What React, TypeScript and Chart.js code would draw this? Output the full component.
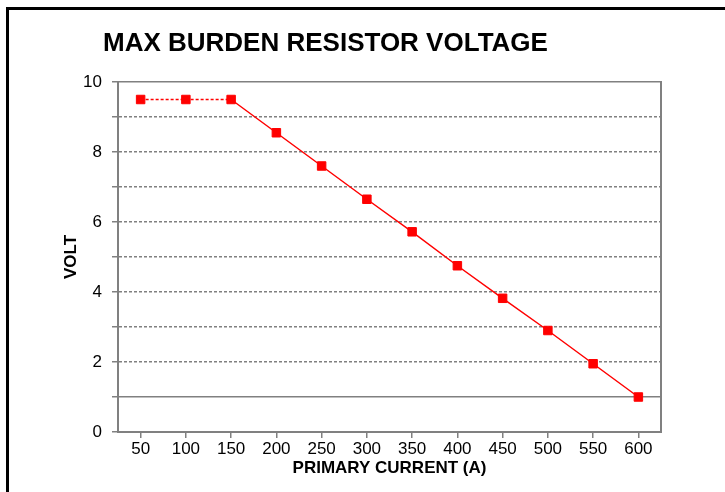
import React, { useEffect, useRef } from "react";
import { Chart, registerables } from "chart.js";

Chart.register(...registerables);

const chartTitle = "MAX BURDEN RESISTOR VOLTAGE";
const xAxisTitle = "PRIMARY CURRENT (A)";
const yAxisTitle = "VOLT";
const categories = ["50", "100", "150", "200", "250", "300", "350", "400", "450", "500", "550", "600"];
const voltage = [9.5, 9.5, 9.5, 8.55, 7.6, 6.65, 5.72, 4.75, 3.82, 2.9, 1.95, 1.0];
const yTickLabels = ["0", "", "2", "", "4", "", "6", "", "8", "", "10"];
const solidGridValues = [0, 1, 10];

const FONT = "'Liberation Sans', Arial, Helvetica, sans-serif";

export default function App() {
  const ref = useRef<HTMLCanvasElement | null>(null);

  useEffect(() => {
    if (!ref.current) return;
    const titlePlugin = {
      id: "leftTitle",
      afterDraw(chart: any) {
        const { ctx, chartArea } = chart;
        ctx.save();
        ctx.font = `bold 26px ${FONT}`;
        ctx.fillStyle = "#000";
        ctx.textAlign = "left";
        ctx.textBaseline = "middle";
        ctx.fillText(chartTitle, chartArea.left - 15, chartArea.top - 38);
        ctx.restore();
      },
    };
    const chart = new Chart(ref.current, {
      type: "line",
      data: {
        labels: categories,
        datasets: [
          {
            data: voltage,
            borderColor: "#ff0000",
            backgroundColor: "#ff0000",
            borderWidth: 1.5,
            pointStyle: "rect",
            pointRadius: 6,
            pointHoverRadius: 6,
            pointBackgroundColor: "#ff0000",
            pointBorderColor: "#ff0000",
            pointBorderWidth: 1,
            tension: 0,
            segment: {
              borderDash: (c: any) => (c.p1DataIndex <= 2 ? [3, 2] : undefined),
            },
          },
        ],
      },
      options: {
        animation: false,
        responsive: false,
        layout: { padding: { left: 57, right: 64, top: 82, bottom: 9 } },
        plugins: { legend: { display: false }, tooltip: { enabled: false }, title: { display: false } },
        scales: {
          x: {
            type: "category",
            offset: true,
            grid: {
              display: true,
              drawOnChartArea: false,
              drawTicks: true,
              tickLength: 6,
              color: "#808080",
              lineWidth: 1.5,
              offset: false,
            },
            border: { display: true, color: "#808080", width: 2 },
            ticks: { color: "#000", font: { family: FONT, size: 17 }, padding: 1, maxRotation: 0, autoSkip: false },
            title: { display: true, text: xAxisTitle, color: "#000", font: { family: FONT, size: 17, weight: "bold" } },
            afterFit: (s: any) => {
              s.height = 51;
            },
          },
          y: {
            min: 0,
            max: 10,
            grid: {
              color: "#808080",
              lineWidth: 1.5,
              tickLength: 6,
              drawTicks: true,
            },
            border: {
              display: true,
              color: "#808080",
              width: 2,
              dash: (c: any) => (c.tick && solidGridValues.includes(c.tick.value) ? [] : [3, 2]),
            },
            ticks: {
              stepSize: 1,
              color: "#000",
              font: { family: FONT, size: 17 },
              padding: 10,
              autoSkip: false,
              callback: (_v: any, i: number) => yTickLabels[i],
            },
            title: { display: true, text: yAxisTitle, color: "#000", font: { family: FONT, size: 17, weight: "bold" } },
            afterFit: (s: any) => {
              s.width = 61;
            },
          },
          y2: {
            position: "right",
            min: 0,
            max: 10,
            grid: { display: false, drawTicks: false },
            ticks: { display: false },
            border: { display: true, color: "#808080", width: 2 },
            afterFit: (s: any) => {
              s.width = 0;
            },
          },
        },
      },
      plugins: [titlePlugin],
    } as any);
    return () => chart.destroy();
  }, []);

  return (
    <div style={{ position: "fixed", left: 0, top: 0, width: 725, height: 492, background: "#fff", overflow: "hidden" }}>
      <canvas ref={ref} width={725} height={492} style={{ position: "absolute", left: 0, top: 0, width: 725, height: 492 }} />
      <div
        style={{
          position: "absolute",
          left: 6,
          top: 7,
          width: 760,
          height: 520,
          border: "3px solid #000",
          boxSizing: "border-box",
          pointerEvents: "none",
        }}
      />
    </div>
  );
}
